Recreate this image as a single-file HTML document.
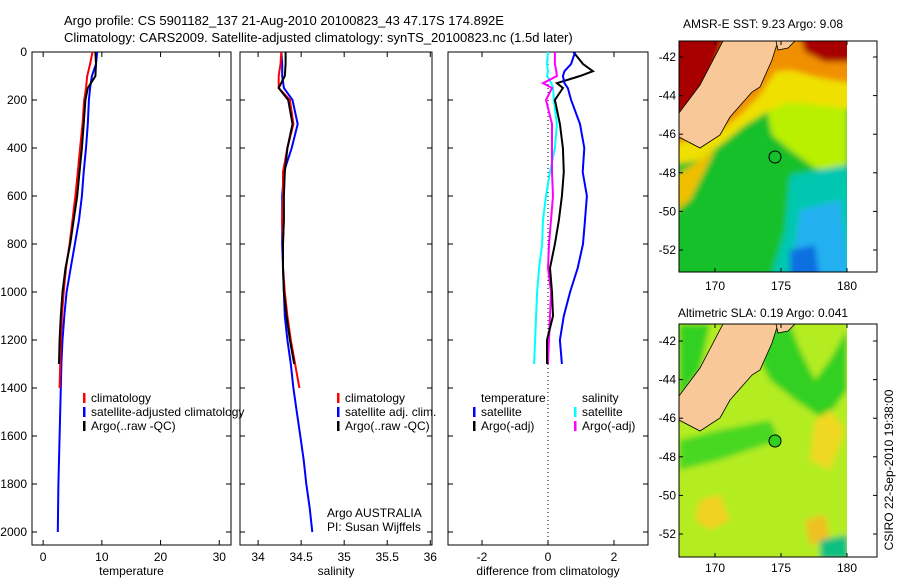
<!DOCTYPE html>
<html><head><meta charset="utf-8">
<style>
html,body{margin:0;padding:0;background:#fff;}
svg{display:block;font-family:"Liberation Sans",sans-serif;}
</style></head>
<body>
<svg id="fig" width="900" height="580" viewBox="0 0 900 580" xmlns="http://www.w3.org/2000/svg">
<defs>
<filter id="blur" x="-10%" y="-10%" width="120%" height="120%"><feGaussianBlur stdDeviation="3"/></filter>
<clipPath id="clip1"><rect x="679" y="41" width="168" height="231"/></clipPath>
<clipPath id="clip2"><rect x="679" y="324" width="168" height="233"/></clipPath>
</defs>
<text x="64" y="25" font-size="13">Argo profile: CS 5901182_137 21-Aug-2010 20100823_43 47.17S 174.892E</text>
<text x="64" y="42" font-size="13">Climatology: CARS2009. Satellite-adjusted climatology: synTS_20100823.nc (1.5d later)</text>

<!-- Map 1 -->
<g>
<g clip-path="url(#clip1)">
<g filter="url(#blur)">
<rect x="670" y="30" width="190" height="250" fill="#18c02a"/>
<polygon points="765,100 800,95 847,90 847,175 815,168 790,150 772,135" fill="#b8f000"/>
<polygon points="670,30 860,30 860,110 820,105 790,102 770,110 745,125 720,145 700,160 670,165" fill="#f0e000"/>
<polygon points="670,30 860,30 860,85 820,78 790,70 775,72 760,95 740,115 715,135 670,145" fill="#f09000"/>
<polygon points="670,30 728,30 705,95 670,125" fill="#a80000"/>
<polygon points="798,30 860,30 860,62 825,62 805,52" fill="#a80000"/>
<polygon points="790,175 847,165 860,280 770,280 785,230" fill="#00c8b0"/>
<polygon points="800,210 840,200 850,280 790,280" fill="#20b0f0"/>
<polygon points="790,250 815,245 820,280 790,280" fill="#1070e0"/>
<polygon points="670,180 700,160 715,150 690,200 670,215" fill="#f0c000"/>
</g>
<polygon points="723,41 778,41 772,60 760,87 752,92 730,117 720,135 700,148 679,137 679,113 700,85" fill="#f8c898" stroke="#000" stroke-width="0.8"/>
<polygon points="776,41 795,41 788,48 778,50" fill="#f8c898" stroke="#000" stroke-width="0.8"/>
</g>
<rect x="847" y="41" width="30" height="231" fill="#fff"/>
<rect x="679" y="41" width="198" height="231" fill="none" stroke="#000" stroke-width="1"/>
<g id="map1ticks"></g>
<circle cx="775" cy="157" r="6" fill="none" stroke="#000" stroke-width="1"/>
<text x="763" y="28" font-size="12" text-anchor="middle">AMSR-E SST: 9.23 Argo: 9.08</text>
</g>

<!-- Map 2 -->
<g>
<g clip-path="url(#clip2)">
<g filter="url(#blur)">
<rect x="670" y="315" width="190" height="250" fill="#b4ec20"/>
<polygon points="679,324 710,324 700,370 679,400" fill="#30d020"/>
<polygon points="760,324 790,324 800,350 815,380 830,360 847,330 847,390 825,420 795,400 770,380 760,360" fill="#30d020"/>
<polygon points="679,440 720,430 770,420 780,440 720,460 679,470" fill="#48d820"/>
<polygon points="815,420 830,410 845,430 830,470 810,460" fill="#f0d820"/>
<polygon points="700,500 720,495 730,520 710,530 695,520" fill="#f0d020"/>
<polygon points="805,520 825,515 830,540 810,545" fill="#f0c020"/>
<polygon points="820,540 847,535 850,560 820,560" fill="#10c080"/>
</g>
<polygon points="723,324 778,324 772,343 760,370 752,375 730,400 720,418 700,431 679,420 679,396 700,368" fill="#f8c898" stroke="#000" stroke-width="0.8"/>
<polygon points="776,324 795,324 788,331 778,333" fill="#f8c898" stroke="#000" stroke-width="0.8"/>
</g>
<rect x="847" y="324" width="30" height="233" fill="#fff"/>
<rect x="679" y="324" width="198" height="233" fill="none" stroke="#000" stroke-width="1"/>
<g id="map2ticks"></g>
<circle cx="775" cy="441" r="6" fill="#30d020" stroke="#000" stroke-width="1"/>
<text x="763" y="317" font-size="12" text-anchor="middle">Altimetric SLA: 0.19 Argo: 0.041</text>
</g>
<text transform="translate(893,470) rotate(-90)" font-size="12" text-anchor="middle">CSIRO 22-Sep-2010 19:38:00</text>

<g id="panels"></g>
</svg>
<script>
// ---- data ----
const depths = [0,50,100,150,200,300,400,500,600,700,800,900,1000,1100,1200,1300,1400];
const depthsSat = [0,50,100,150,200,300,400,500,600,700,800,900,1000,1100,1200,1300,1400,1500,1600,1700,1800,1900,2000];
const depthsArgo = [0,50,100,150,200,300,400,500,600,700,800,900,1000,1100,1200,1300];
const tempClim = [8.4,8.0,7.5,7.3,7.0,6.7,6.3,5.9,5.5,5.0,4.5,3.9,3.5,3.2,3.0,2.9,2.8];
const tempSat = [9.2,9.0,8.3,8.0,7.8,7.6,7.3,6.9,6.6,6.1,5.4,4.7,4.0,3.6,3.3,3.1,3.0,2.9,2.8,2.7,2.6,2.55,2.5];
const tempArgo = [8.9,9.0,8.9,7.6,7.2,6.9,6.6,6.2,5.8,5.2,4.6,3.8,3.3,3.0,2.8,2.7];
const salClim = [34.27,34.26,34.24,34.24,34.37,34.41,34.34,34.29,34.29,34.28,34.29,34.29,34.31,34.34,34.38,34.43,34.48];
const salSat = [34.27,34.28,34.28,34.30,34.40,34.46,34.39,34.30,34.28,34.28,34.28,34.29,34.30,34.31,34.34,34.38,34.41,34.45,34.49,34.53,34.56,34.60,34.63];
const salArgo = [34.32,34.32,34.31,34.24,34.35,34.40,34.34,34.31,34.30,34.30,34.29,34.29,34.30,34.33,34.37,34.42];
const diffDepths = [0,50,80,100,130,150,200,300,400,500,600,700,800,900,1000,1100,1200,1300];
const dTempSat = [0.82,0.7,0.5,0.45,0.5,0.6,0.7,0.97,1.1,1.05,1.18,1.12,1.06,0.9,0.67,0.48,0.36,0.42];
const dTempArgo = [0.77,1.06,1.36,0.97,0.27,0.45,0.21,0.36,0.45,0.48,0.42,0.33,0.21,0.06,0.12,0.15,-0.03,-0.03];
const dSalSat = [0,-0.03,0,-0.03,0.1,0.15,0.18,0.27,0.21,0.06,-0.06,-0.15,-0.18,-0.27,-0.33,-0.36,-0.39,-0.42];
const dSalArgo = [0.21,0.21,0.25,0.27,-0.15,0.12,-0.06,0.12,0.12,0.12,0.15,0.09,0.03,0,0.09,0.06,0.03,0];
const depthTicks = [0,200,400,600,800,1000,1200,1400,1600,1800,2000];
const tempTicks = [0,10,20,30];
const salTicks = [34,34.5,35,35.5,36];
const salTickLabels = ["34","34.5","35","35.5","36"];
const diffTicks = [-2,0,2];
const lonTicks = [170,175,180];
const latTicks = [-42,-44,-46,-48,-50,-52];

const NS = "http://www.w3.org/2000/svg";
function mk(tag, attrs, parent){const e=document.createElementNS(NS,tag);for(const k in attrs)e.setAttribute(k,attrs[k]);parent.appendChild(e);return e;}
const root = document.getElementById('panels');
const yTop=52, yScale=0.24, plotBottom=545;
const yOf = d => yTop + d*yScale;

function panel(name, x0, x1, xmin, xmax, ticks, labels, xlabel, showY){
  const sx = v => x0 + (v - xmin)/(xmax - xmin)*(x1 - x0);
  const g = mk('g', {}, root);
  
  
  const fr = mk('rect', {x:x0, y:yTop, width:x1-x0, height:plotBottom-yTop, fill:'none', stroke:'#000', 'stroke-width':1}, g);
  
  
  depthTicks.forEach(d=>{
    const y=yOf(d);
    mk('line',{x1:x0,x2:x0+5,y1:y,y2:y,stroke:'#000'},g);
    mk('line',{x1:x1-5,x2:x1,y1:y,y2:y,stroke:'#000'},g);
    if(showY){
      const t=mk('text',{x:x0-5,y:y+4,'font-size':12,'text-anchor':'end'},g);
      t.textContent=d;
      
      
    }
  });
  ticks.forEach((v,i)=>{
    const x=sx(v);
    mk('line',{x1:x,x2:x,y1:yTop,y2:yTop+5,stroke:'#000'},g);
    mk('line',{x1:x,x2:x,y1:plotBottom-5,y2:plotBottom,stroke:'#000'},g);
    const t=mk('text',{x:x,y:561,'font-size':12,'text-anchor':'middle'},g);
    t.textContent=labels[i];
    
    
  });
  const xl=mk('text',{x:(x0+x1)/2,y:575,'font-size':12,'text-anchor':'middle'},g);
  xl.textContent=xlabel;
  
  
  return {g, sx};
}
function line(p, vals, ds, color, name){
  const pts = vals.map((v,i)=>p.sx(v).toFixed(1)+','+yOf(ds[i]).toFixed(1)).join(' ');
  const l=mk('polyline',{points:pts,fill:'none',stroke:color,'stroke-width':2},p.g);
  
  
}
function legend(g, x, y, color, text, name){
  if(color){const m=mk('rect',{x:x,y:y-9,width:2.5,height:10,fill:color},g);
  
  }
  const t=mk('text',{x:x+8,y:y,'font-size':12},g);
  t.textContent=text;
  
  
}

const p1 = panel('temperature-panel',32,231,-1.9,32,tempTicks,tempTicks.map(String),'temperature',true);
line(p1,tempSat,depthsSat,'#0000ff','temp-satellite-line');
line(p1,tempClim,depths,'#ff0000','temp-climatology-line');
line(p1,tempArgo,depthsArgo,'#000000','temp-argo-line');
legend(p1.g,83,402,'#ff0000','climatology','legend-climatology');
legend(p1.g,83,416,'#0000ff','satellite-adjusted climatology','legend-satellite');
legend(p1.g,83,430,'#000000','Argo(..raw -QC)','legend-argo');

const p2 = panel('salinity-panel',240,432,33.79,36.02,salTicks,salTickLabels,'salinity',false);
line(p2,salSat,depthsSat,'#0000ff','sal-satellite-line');
line(p2,salClim,depths,'#ff0000','sal-climatology-line');
line(p2,salArgo,depthsArgo,'#000000','sal-argo-line');
legend(p2.g,337,402,'#ff0000','climatology','legend-climatology');
legend(p2.g,337,416,'#0000ff','satellite adj. clim.','legend-satellite');
legend(p2.g,337,430,'#000000','Argo(..raw -QC)','legend-argo');
legend(p2.g,319,517,null,'Argo AUSTRALIA','argo-australia-label');
legend(p2.g,319,531,null,'PI: Susan Wijffels','pi-label');

const p3 = panel('difference-panel',448,648,-3.03,3.03,diffTicks,diffTicks.map(String),'difference from climatology',false);
const zl=mk('line',{x1:p3.sx(0),x2:p3.sx(0),y1:yTop,y2:plotBottom,stroke:'#000','stroke-dasharray':'1,3'},p3.g);


line(p3,dSalSat,diffDepths,'#00ffff','diff-sal-satellite-line');
line(p3,dSalArgo,diffDepths,'#ff00ff','diff-sal-argo-line');
line(p3,dTempArgo,diffDepths,'#000000','diff-temp-argo-line');
line(p3,dTempSat,diffDepths,'#0000ff','diff-temp-satellite-line');
legend(p3.g,473,402,null,'temperature','legend-temperature-header');
legend(p3.g,473,416,'#0000ff','satellite','legend-temp-satellite');
legend(p3.g,473,430,'#000000','Argo(-adj)','legend-temp-argo');
legend(p3.g,574,402,null,'salinity','legend-salinity-header');
legend(p3.g,574,416,'#00ffff','satellite','legend-sal-satellite');
legend(p3.g,574,430,'#ff00ff','Argo(-adj)','legend-sal-argo');

function mapTicks(id, top, bottom, lat42y, latScale, labelY){
  const g=document.getElementById(id);
  const lx = lon => 715 + (lon-170)*13.2;
  const ly = lat => lat42y + (-42-lat)*latScale;
  lonTicks.forEach(lon=>{
    const x=lx(lon);
    mk('line',{x1:x,x2:x,y1:top,y2:top+4,stroke:'#000'},g);
    mk('line',{x1:x,x2:x,y1:bottom-4,y2:bottom,stroke:'#000'},g);
    const t=mk('text',{x:x,y:labelY,'font-size':12,'text-anchor':'middle'},g);
    t.textContent=lon;
    
    
  });
  latTicks.forEach(lat=>{
    const y=ly(lat);
    mk('line',{x1:679,x2:683,y1:y,y2:y,stroke:'#000'},g);
    mk('line',{x1:873,x2:877,y1:y,y2:y,stroke:'#000'},g);
    const t=mk('text',{x:676,y:y+4,'font-size':12,'text-anchor':'end'},g);
    t.textContent=lat;
    
    
  });
}
mapTicks('map1ticks',41,272,57,19.3,290);
mapTicks('map2ticks',324,557,341,19.3,572);
</script>
</body></html>
